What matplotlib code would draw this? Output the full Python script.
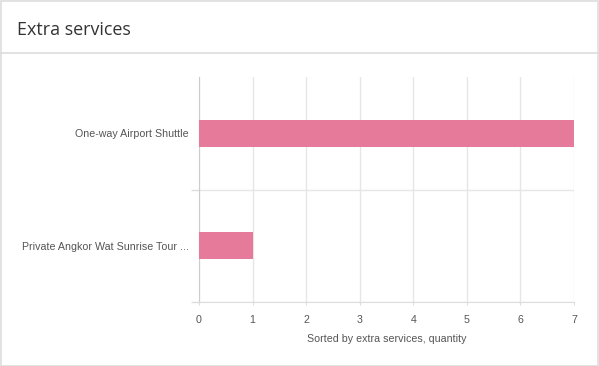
import matplotlib
matplotlib.use("Agg")
import matplotlib.pyplot as plt
from matplotlib.patches import Rectangle
from matplotlib.lines import Line2D

categories = ["One-way Airport Shuttle", "Private Angkor Wat Sunrise Tour ..."]
values = [7, 1]
xticks = [0, 1, 2, 3, 4, 5, 6, 7]
title = "Extra services"
xlabel = "Sorted by extra services, quantity"

W, H = 599, 366
fig = plt.figure(figsize=(W / 100, H / 100), dpi=100)
fig.patch.set_facecolor("white")

# outer border and header separator
fig.add_artist(Rectangle((0.5 / W, 0.5 / H), (W - 1.5) / W, (H - 1.5) / H,
                         transform=fig.transFigure, fill=False,
                         edgecolor="#dddddd", linewidth=1.2))
fig.add_artist(Line2D([0, 1], [1 - 53 / H, 1 - 53 / H], transform=fig.transFigure,
                      color="#dddddd", linewidth=1.2))
fig.text(17 / W, 1 - 30 / H, title, fontsize=12.9, family="Open Sans",
         color="#333333", ha="left", va="center")

ax = fig.add_axes([199 / W, 1 - 302 / H, (574 - 199) / W, (302 - 77) / H])
ypos = list(range(len(categories)))
ax.barh(ypos, values, height=0.24, color="#e57a9a", zorder=3)
ax.set_ylim(len(categories) - 0.5, -0.5)
ax.set_xlim(xticks[0], xticks[-1])
ax.set_xticks(xticks)
ax.set_yticks(ypos)
ax.set_yticklabels(categories)
ax.set_yticks([i + 0.5 for i in ypos], minor=True)

for s in ["top", "right"]:
    ax.spines[s].set_visible(False)
ax.spines["left"].set_color("#cccccc")
ax.spines["bottom"].set_color("#dddddd")

ax.grid(axis="x", color="#e6e6e6", linewidth=1, zorder=0)
ax.grid(axis="y", which="minor", color="#e6e6e6", linewidth=1, zorder=0)
ax.tick_params(axis="y", which="major", length=0, pad=7.5,
               labelsize=7.7, labelcolor="#555555")
ax.tick_params(axis="y", which="minor", length=5.5, color="#dddddd", width=1)
ax.tick_params(axis="x", length=2, color="#dddddd", pad=7.5,
               labelsize=7.7, labelcolor="#555555")
for lbl in ax.get_xticklabels() + ax.get_yticklabels():
    lbl.set_family("Liberation Sans")
ax.set_xlabel(xlabel, fontsize=7.7, color="#555555", family="Liberation Sans",
              labelpad=6.5)

fig.savefig("out.png", dpi=100, facecolor="white")
